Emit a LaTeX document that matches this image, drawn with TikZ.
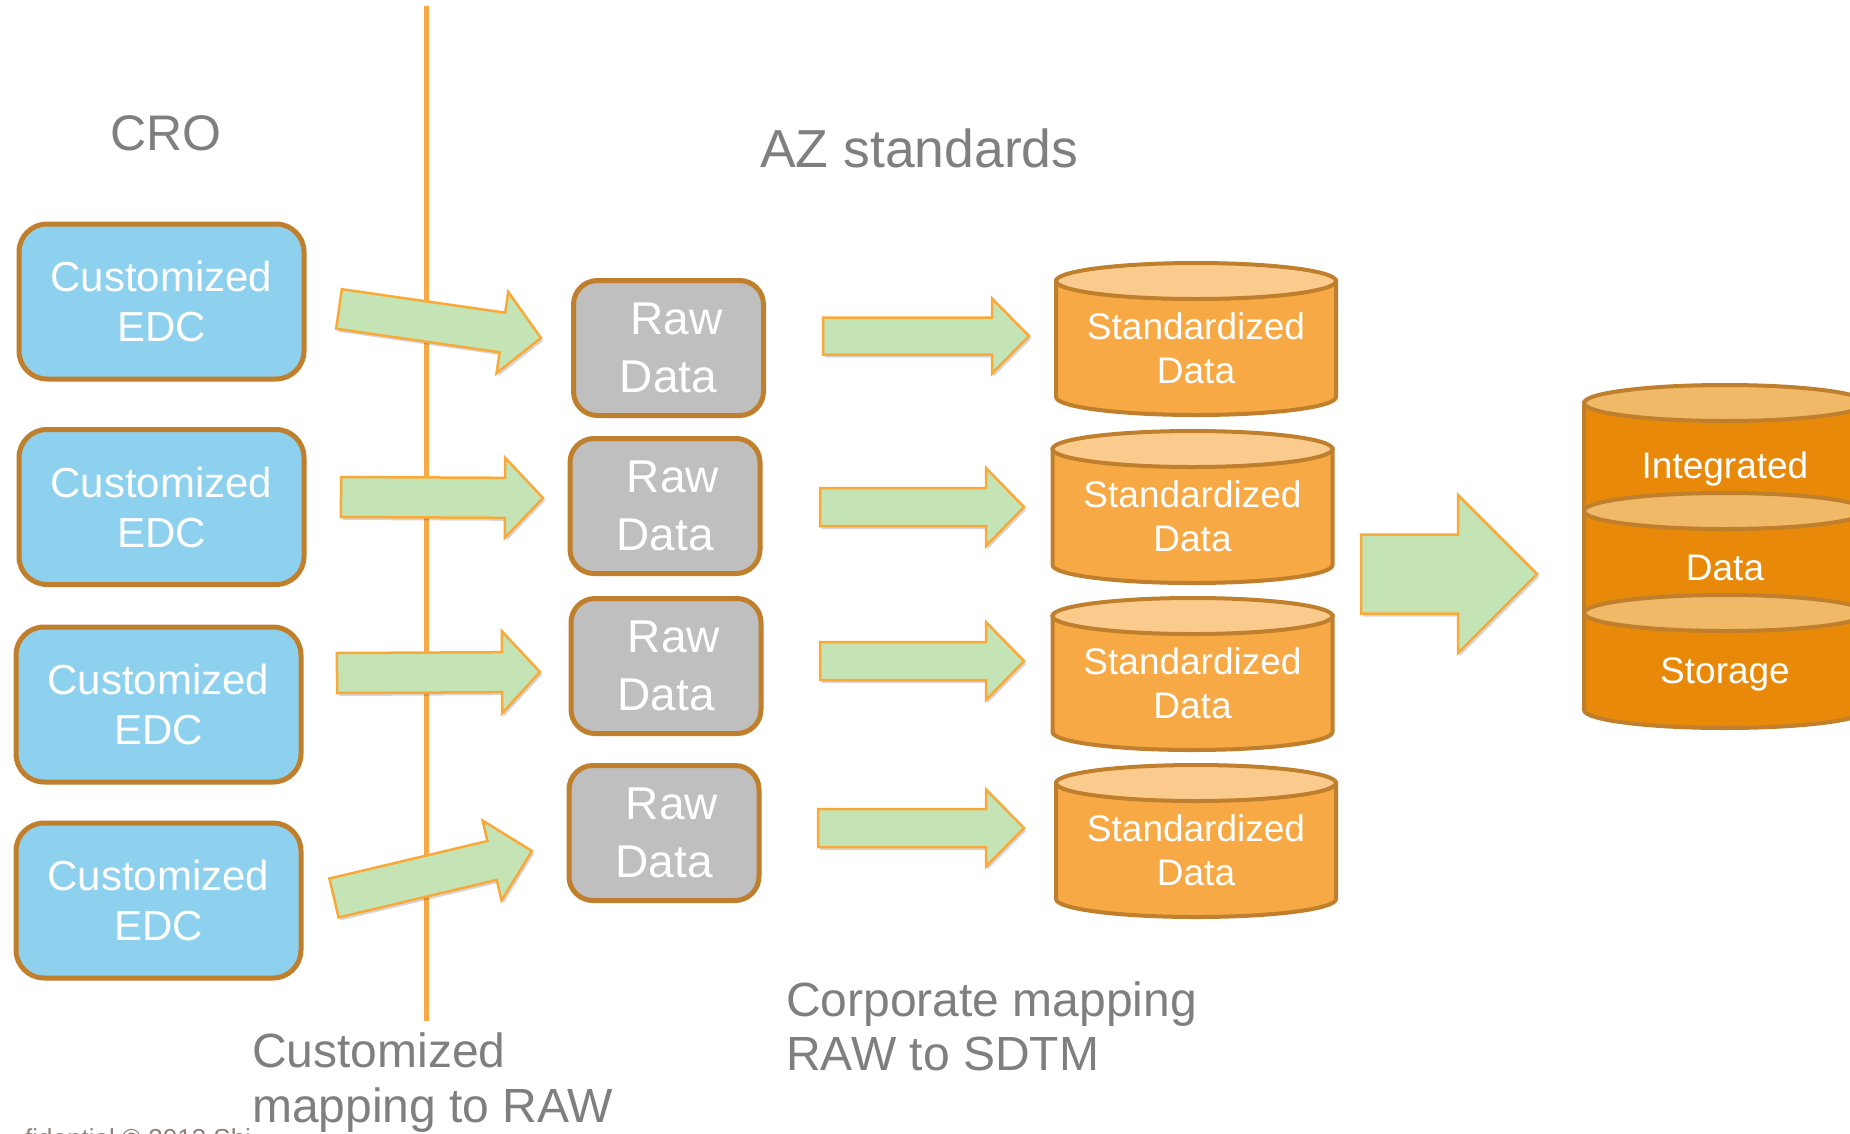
\documentclass[tikz,border=0pt]{standalone}
\usepackage{fontspec}
\setmainfont{Liberation Sans}
\usetikzlibrary{calc}
\definecolor{edcfill}{HTML}{8DD1EE}
\definecolor{boxline}{HTML}{BF7F2C}
\definecolor{rawfill}{HTML}{BFBFBF}
\definecolor{sdbody}{HTML}{F7A945}
\definecolor{sdtop}{HTML}{FBCB8E}
\definecolor{intbody}{HTML}{E8890A}
\definecolor{inttop}{HTML}{F0B968}
\definecolor{arrfill}{HTML}{C4E4B6}
\definecolor{arrline}{HTML}{F9A938}
\definecolor{vlinecol}{HTML}{F8A845}
\definecolor{greytext}{HTML}{7F7F7F}
\definecolor{foottext}{HTML}{8C8078}

\newcommand{\blockarrow}[5]{% tail, tip, shaft half, head half, head length
  \coordinate (bh) at ($(#2)!#5!(#1)$);
  \fill[black, opacity=0.16, transform canvas={shift={(2pt,-3pt)}}]
    ($(#1)!#3!90:(#2)$) -- ($(bh)!#3!90:(#2)$) -- ($(bh)!#4!90:(#2)$) -- (#2)
    -- ($(bh)!#4!-90:(#2)$) -- ($(bh)!#3!-90:(#2)$) -- ($(#1)!#3!-90:(#2)$) -- cycle;
  \filldraw[greenarrow]
    ($(#1)!#3!90:(#2)$) -- ($(bh)!#3!90:(#2)$) -- ($(bh)!#4!90:(#2)$) -- (#2)
    -- ($(bh)!#4!-90:(#2)$) -- ($(bh)!#3!-90:(#2)$) -- ($(#1)!#3!-90:(#2)$) -- cycle;
}
\newcommand{\cylseg}[7]{% cx, ytop, ybot, rx, ry, body, top
  \filldraw[cylline, fill=#6] (#1-#4, #2) -- (#1-#4, #3)
    arc[start angle=180, end angle=360, x radius=#4pt, y radius=#5pt] -- (#1+#4, #2) -- cycle;
  \filldraw[cylline, fill=#7] (#1, #2) ellipse[x radius=#4pt, y radius=#5pt];
}

\begin{document}
\begin{tikzpicture}[x=1pt, y=-1pt,
  greenarrow/.style={fill=arrfill, draw=arrline, line width=2.5pt, line join=miter},
  cylline/.style={draw=boxline, line width=4pt},
  edcbox/.style={draw=boxline, line width=5pt, fill=edcfill, rounded corners=28pt,
    minimum width=285pt, minimum height=155pt, inner sep=0pt, text=white, align=center,
    font=\fontsize{42}{50}\selectfont},
  rawbox/.style={draw=boxline, line width=5pt, fill=rawfill, rounded corners=24pt,
    minimum width=190pt, minimum height=135pt, inner sep=0pt, text=white, align=center,
    font=\fontsize{46}{58}\selectfont},
  cyltext/.style={inner sep=0pt, text=white, align=center, font=\fontsize{37}{44}\selectfont},
  greylabel/.style={inner sep=0pt, text=greytext, align=left},
]
\useasboundingbox (0,0) rectangle (1850,1133);
\clip (0,0) rectangle (1850,1133);
\fill[white] (0,0) rectangle (1850,1133);

% divider
\coordinate (vtop) at (426,6);
\coordinate (vbot) at (426,1021);
\draw[vlinecol, line width=5pt] (vtop) -- (vbot);

% titles
\node[greylabel, anchor=base, font=\fontsize{50}{60}\selectfont] (cro) at (166,150) {CRO};
\node[greylabel, anchor=base west, font=\fontsize{53.5}{64}\selectfont] (az) at (760,167) {AZ standards};

% EDC boxes
\node[edcbox] (edc1) at (161.5,301.5) {Customized\\EDC};
\node[edcbox] (edc2) at (161.5,507) {Customized\\EDC};
\node[edcbox] (edc3) at (158.5,704.5) {Customized\\EDC};
\node[edcbox] (edc4) at (158.5,900.5) {Customized\\EDC};

% Raw boxes
\node[rawbox] (raw1) at (668.5,348) {\hspace*{16pt}Raw\\Data};
\node[rawbox] (raw2) at (665,506) {\hspace*{16pt}Raw\\Data};
\node[rawbox] (raw3) at (666,666) {\hspace*{16pt}Raw\\Data};
\node[rawbox] (raw4) at (664,833) {\hspace*{16pt}Raw\\Data};

% Standardized cylinders
\cylseg{1196}{281}{397}{140}{18}{sdbody}{sdtop}
\cylseg{1192.5}{449}{565}{140}{18}{sdbody}{sdtop}
\cylseg{1192.5}{616}{732}{140}{18}{sdbody}{sdtop}
\cylseg{1196}{783}{899}{140}{18}{sdbody}{sdtop}
\node[cyltext] (sd1) at (1196,348.5) {Standardized\\Data};
\node[cyltext] (sd2) at (1192.5,516.5) {Standardized\\Data};
\node[cyltext] (sd3) at (1192.5,683.5) {Standardized\\Data};
\node[cyltext] (sd4) at (1196,850.5) {Standardized\\Data};

% Integrated storage cylinder
\cylseg{1725}{403}{511}{141}{18}{intbody}{inttop}
\cylseg{1725}{511}{613}{141}{18}{intbody}{inttop}
\cylseg{1725}{613}{710}{141}{18}{intbody}{inttop}
\node[cyltext, anchor=base] (int1) at (1725,478) {Integrated};
\node[cyltext, anchor=base] (int2) at (1725,580) {Data};
\node[cyltext, anchor=base] (int3) at (1725,683) {Storage};

% arrows EDC -> Raw
\coordinate (a1s) at (339,309);  \coordinate (a1e) at (541,338);
\coordinate (a2s) at (341,497);  \coordinate (a2e) at (543,498);
\coordinate (a3s) at (337,673);  \coordinate (a3e) at (540,672);
\coordinate (a4s) at (334,898);  \coordinate (a4e) at (532,851);
\blockarrow{a1s}{a1e}{20pt}{41pt}{39pt}
\blockarrow{a2s}{a2e}{20pt}{40pt}{38pt}
\blockarrow{a3s}{a3e}{20pt}{41pt}{38pt}
\blockarrow{a4s}{a4e}{20pt}{41pt}{41pt}

% arrows Raw -> Standardized
\coordinate (b1s) at (823,336);  \coordinate (b1e) at (1029,336);
\coordinate (b2s) at (820,507);  \coordinate (b2e) at (1024,507);
\coordinate (b3s) at (820,661);  \coordinate (b3e) at (1024,661);
\coordinate (b4s) at (818,828);  \coordinate (b4e) at (1024,828);
\blockarrow{b1s}{b1e}{18.5pt}{37.5pt}{37pt}
\blockarrow{b2s}{b2e}{19pt}{39pt}{38pt}
\blockarrow{b3s}{b3e}{19pt}{39pt}{38pt}
\blockarrow{b4s}{b4e}{19pt}{38.5pt}{38pt}

% big arrow
\coordinate (cs) at (1361,574);  \coordinate (ce) at (1537,574);
\blockarrow{cs}{ce}{39.5pt}{79pt}{79pt}

% bottom labels
\node[greylabel, anchor=base west, font=\fontsize{48}{54}\selectfont] (corp1) at (786,1016) {Corporate mapping};
\node[greylabel, anchor=base west, font=\fontsize{48}{54}\selectfont] (corp2) at (786,1070) {RAW to SDTM};
\node[anchor=base west, inner sep=0pt, text=foottext, font=\fontsize{26}{30}\selectfont] (foot) at (25,1147) {fidential © 2013 Shi};
\node[greylabel, anchor=base west, font=\fontsize{48}{54}\selectfont] (cust1) at (252,1067) {Customized};
\node[greylabel, anchor=base west, font=\fontsize{48}{54}\selectfont] (cust2) at (252,1122) {mapping to RAW};
\end{tikzpicture}
\end{document}
